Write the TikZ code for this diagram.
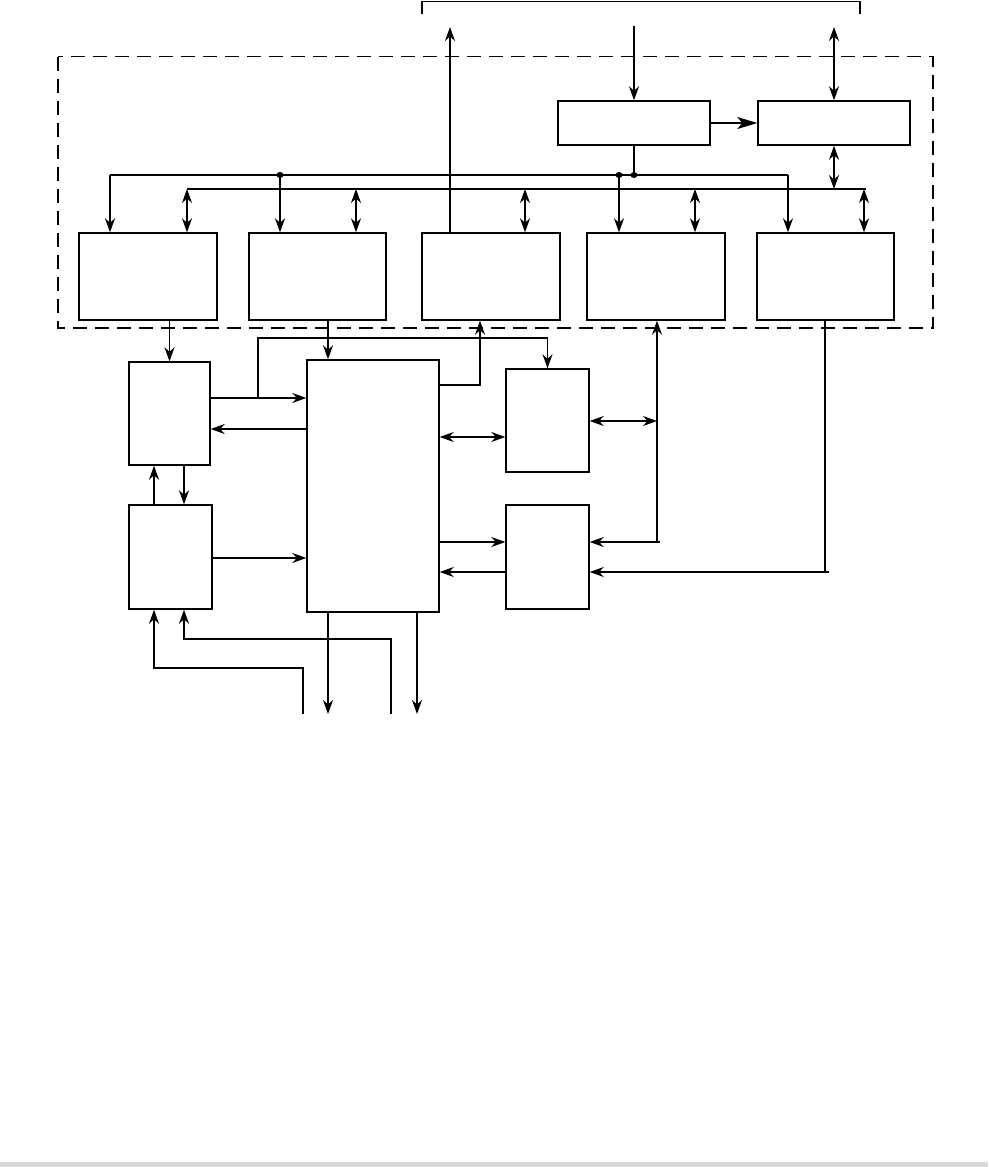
\documentclass[tikz,border=0pt]{standalone}
\usetikzlibrary{arrows.meta,calc,shapes.geometric}
\begin{document}
\begin{tikzpicture}[x=1pt,y=-1pt,
  line width=1.4pt,
  box/.style={draw, inner sep=0pt, line width=1.4pt},
  arr/.style={-{Stealth[length=14pt,width=10pt,inset=4.5pt]}},
  darr/.style={{Stealth[length=14pt,width=10pt,inset=4.5pt]}-{Stealth[length=14pt,width=10pt,inset=4.5pt]}},
  big/.style={-{Stealth[length=20pt,width=12pt,inset=5pt]}},
  dot/.style={ellipse, fill, inner sep=0pt, minimum width=7pt, minimum height=6pt}]
\useasboundingbox (0,0) rectangle (988,1167);
\fill[gray!30] (0,1162) rectangle (988,1167);
\draw[dash pattern=on 14pt off 8pt] (58,56.5) rectangle (933,328);
% bracket
\coordinate (brL) at (422,14); \coordinate (brR) at (860,14);
\draw (brL) -- (422,1.5) -- (860,1.5) -- (brR);
% boxes
\node[box, minimum width=152pt, minimum height=44pt] (A) at (634,123) {};
\node[box, minimum width=152pt, minimum height=44pt] (B) at (834,123) {};
\node[box, minimum width=138pt, minimum height=87pt] (b1) at (148,276.5) {};
\node[box, minimum width=137pt, minimum height=87pt] (b2) at (317.5,276.5) {};
\node[box, minimum width=138pt, minimum height=87pt] (b3) at (491,276.5) {};
\node[box, minimum width=138pt, minimum height=87pt] (b4) at (656,276.5) {};
\node[box, minimum width=137pt, minimum height=87pt] (b5) at (825.5,276.5) {};
\node[box, minimum width=81pt, minimum height=103pt] (C) at (169.5,413.5) {};
\node[box, minimum width=83pt, minimum height=104pt] (D) at (170.5,557) {};
\node[box, minimum width=132pt, minimum height=252pt] (M) at (373,486) {};
\node[box, minimum width=83pt, minimum height=103pt] (E) at (547.5,420.5) {};
\node[box, minimum width=83pt, minimum height=104pt] (F) at (547.5,557) {};
% top connections
\coordinate (up3) at (450,27);
\draw[arr] (b3.north -| up3) -- (up3);
\coordinate (inA) at (634,26);
\draw[arr] (inA) -- (A.north);
\coordinate (ioB) at (834,27);
\draw[darr] (ioB) -- (B.north);
\draw[big] (A.east) -- (B.west);
% buses
\coordinate (bus1L) at (110,175); \coordinate (bus1R) at (788,175);
\coordinate (bus2L) at (187,189); \coordinate (bus2R) at (866,189);
\draw (bus1L) -- (bus1R);
\draw (bus2L) -- (bus2R);
\draw[arr] (bus1L) -- (bus1L |- b1.north);
\draw[arr] (bus1R) -- (bus1R |- b5.north);
\draw (A.south) -- (A.south |- bus1L);
\node[dot] (d0) at (A.south |- bus1L) {};
\node[dot] (d1) at (280,175) {};
\node[dot] (d2) at (619,175) {};
\draw[arr] (d1.center) -- (d1 |- b2.north);
\draw[arr] (d2.center) -- (d2 |- b4.north);
\draw[darr] (B.south) -- (B.south |- bus2L);
\foreach \x/\b in {187/b1,356/b2,525/b3,695/b4,864/b5}
  \draw[darr] (\x,189) -- (\b.north -| \x,0);
% lower connections
\coordinate (xm) at (328,0);
\coordinate (x154) at (154,0); \coordinate (x184) at (184,0);
\coordinate (x417) at (417,0); \coordinate (x480) at (480,0);
\coordinate (y385) at (0,385); \coordinate (y398) at (0,398);
\coordinate (y429) at (0,429); \coordinate (y437) at (0,437);
\coordinate (y542) at (0,542); \coordinate (y558) at (0,558);
\coordinate (y572) at (0,572); \coordinate (yb) at (0,338);
\draw[arr] (b1.south -| C.north) -- (C.north);
\draw[arr] (b2.south -| xm) -- (M.north -| xm);
\draw[arr] (M.east |- y385) -| (b3.south -| x480);
\draw[arr] (C.east |- y398) -- (M.west |- y398);
\coordinate (br) at (258,398);
\draw[arr] (br) |- (E.north |- yb) -- (E.north);
\draw[arr] (M.west |- y429) -- (C.east |- y429);
\draw[arr] (D.north -| x154) -- (C.south -| x154);
\draw[arr] (C.south -| x184) -- (D.north -| x184);
\draw[arr] (D.east |- y558) -- (M.west |- y558);
\draw[darr] (M.east |- y437) -- (E.west |- y437);
\draw[arr] (M.east |- y542) -- (F.west |- y542);
\draw[arr] (F.west |- y572) -- (M.east |- y572);
\coordinate (j4) at (657,421);
\draw[darr] (E.east |- j4) -- (j4);
\coordinate (k4) at (657,542);
\draw[arr] (k4) -- (b4.south -| k4);
\draw[arr] (660,542) -- (F.east |- k4);
\coordinate (k5) at (825,572);
\draw (b5.south -| k5) -- (k5);
\draw[arr] (829,572) -- (F.east |- k5);
% bottom
\coordinate (o1) at (303,714); \coordinate (o2) at (391,714);
\coordinate (c1) at (154,668); \coordinate (c2) at (184,639);
\draw[arr] (o1) |- (c1) -- (D.south -| c1);
\draw[arr] (o2) |- (c2) -- (D.south -| c2);
\draw[arr] (M.south -| xm) -- (xm |- o1);
\draw[arr] (M.south -| x417) -- (x417 |- o1);
\end{tikzpicture}
\end{document}
